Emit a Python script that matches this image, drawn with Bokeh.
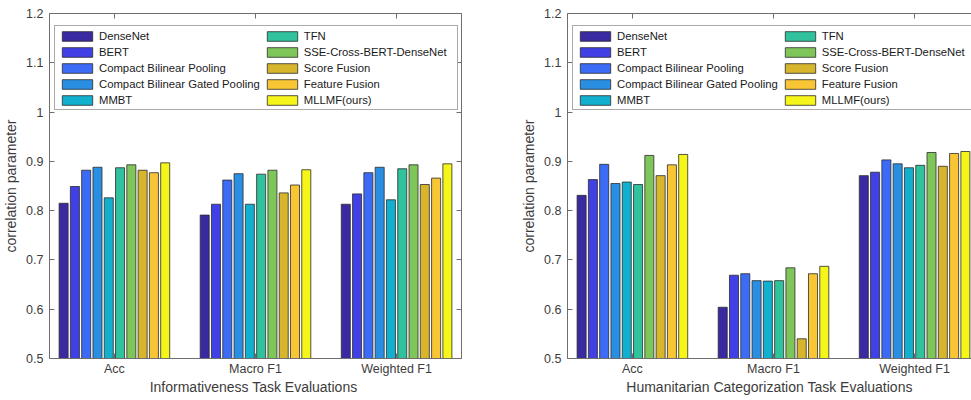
import numpy as np
from bokeh.plotting import figure
from bokeh.models import Range1d, FixedTicker, LinearAxis, ColumnDataSource
from bokeh.layouts import row
from bokeh.embed import file_html
from bokeh.resources import INLINE

categories = ["Acc", "Macro F1", "Weighted F1"]
methods = ["DenseNet", "BERT", "Compact Bilinear Pooling", "Compact Bilinear Gated Pooling",
           "MMBT", "TFN", "SSE-Cross-BERT-DenseNet", "Score Fusion", "Feature Fusion", "MLLMF(ours)"]
colors = ["#3a2aa2", "#4040e4", "#3c6cf6", "#2a8fe2", "#12b0cf",
          "#2fc29c", "#7ec659", "#d7b52d", "#f8c534", "#f5f51a"]
y_ticks = [0.5, 0.6, 0.7, 0.8, 0.9, 1.0, 1.1, 1.2]

# Informativeness task
info_acc = [0.815, 0.849, 0.882, 0.888, 0.826, 0.887, 0.893, 0.882, 0.877, 0.897]
info_macro = [0.791, 0.813, 0.862, 0.875, 0.813, 0.874, 0.882, 0.836, 0.852, 0.883]
info_weighted = [0.813, 0.834, 0.877, 0.888, 0.822, 0.885, 0.893, 0.853, 0.866, 0.895]

# Humanitarian categorization task
hum_acc = [0.831, 0.863, 0.894, 0.855, 0.858, 0.853, 0.912, 0.871, 0.893, 0.914]
hum_macro = [0.604, 0.669, 0.672, 0.658, 0.657, 0.658, 0.684, 0.540, 0.672, 0.687]
hum_weighted = [0.871, 0.878, 0.903, 0.895, 0.887, 0.892, 0.918, 0.890, 0.916, 0.920]

FONT = "Liberation Sans"
TXT = "#3c3c3c"
AX = "#6e6e6e"
PX_PER_UNIT = 412 / 2.92


def hidden_axis(ticks):
    return LinearAxis(ticker=FixedTicker(ticks=ticks),
                      major_label_text_font_size="1px", major_label_text_color=None,
                      major_label_standoff=0,
                      major_tick_in=5, major_tick_out=0, minor_tick_line_color=None,
                      axis_line_color=AX, major_tick_line_color=AX)


def make_chart(xlabel, acc, macro, weighted, width, border_left, border_right, right_axis):
    frame_w = width - border_left - border_right
    x_start = 0.54
    x_end = x_start + frame_w / PX_PER_UNIT
    p = figure(width=width, height=398, output_backend="svg", toolbar_location=None,
               x_range=Range1d(x_start, x_end), y_range=Range1d(0.5, 1.2),
               min_border_left=border_left, min_border_right=border_right,
               min_border_top=13, min_border_bottom=40)
    p.outline_line_color = None
    p.grid.visible = False
    p.background_fill_color = "white"

    n = len(methods)
    group_w = 0.8
    slot = group_w / n
    base = np.arange(1, len(categories) + 1)
    for j, name in enumerate(methods):
        src = ColumnDataSource(dict(x=base + (j - (n - 1) / 2) * slot,
                                    top=[acc[j], macro[j], weighted[j]]))
        p.vbar(x="x", top="top", bottom=0, width=slot * 0.8, source=src,
               fill_color=colors[j], line_color="#2b2b2b", line_width=0.8,
               legend_label=name)

    cat_ticks = list(range(1, len(categories) + 1))
    p.xaxis.ticker = FixedTicker(ticks=cat_ticks)
    p.xaxis.major_label_overrides = {i + 1: c for i, c in enumerate(categories)}
    p.yaxis.ticker = FixedTicker(ticks=y_ticks)
    p.yaxis.major_label_overrides = {1: "1"}
    p.xaxis.axis_label = xlabel
    p.yaxis.axis_label = "correlation parameter"

    for ax in p.xaxis + p.yaxis:
        ax.major_tick_in = 5
        ax.major_tick_out = 0
        ax.minor_tick_line_color = None
        ax.axis_line_color = AX
        ax.major_tick_line_color = AX
        ax.major_label_text_font = FONT
        ax.major_label_text_font_size = "12.5px"
        ax.major_label_text_color = TXT
        ax.axis_label_text_font = FONT
        ax.axis_label_text_font_size = "14px"
        ax.axis_label_text_font_style = "normal"
        ax.axis_label_text_color = TXT
    p.xaxis.major_label_standoff = 3
    p.xaxis.axis_label_standoff = 0
    p.yaxis.major_label_standoff = 6
    p.yaxis.axis_label_standoff = 4

    p.add_layout(hidden_axis(cat_ticks), "above")
    if right_axis:
        p.add_layout(hidden_axis(y_ticks), "right")

    lg = p.legend[0]
    lg.ncols = 2
    lg.location = (5, 248)
    lg.label_text_font = FONT
    lg.label_text_font_size = "11.3px"
    lg.label_text_color = "#1a1a1a"
    lg.glyph_width = 38
    lg.glyph_height = 12
    lg.label_height = 13
    lg.label_width = 150
    lg.label_standoff = 3
    lg.spacing = 3
    lg.padding = 3
    lg.margin = 0
    lg.border_line_color = "#555555"
    lg.border_line_width = 1
    lg.background_fill_color = "white"
    lg.background_fill_alpha = 1
    return p


p1 = make_chart("Informativeness Task  Evaluations", info_acc, info_macro, info_weighted,
                505, 49, 44, True)
p2 = make_chart("Humanitarian Categorization Task Evaluations", hum_acc, hum_macro, hum_weighted,
                466, 62, 0, False)

p = row(p1, p2, spacing=0)
open("out.html", "w").write(file_html(p, INLINE))
